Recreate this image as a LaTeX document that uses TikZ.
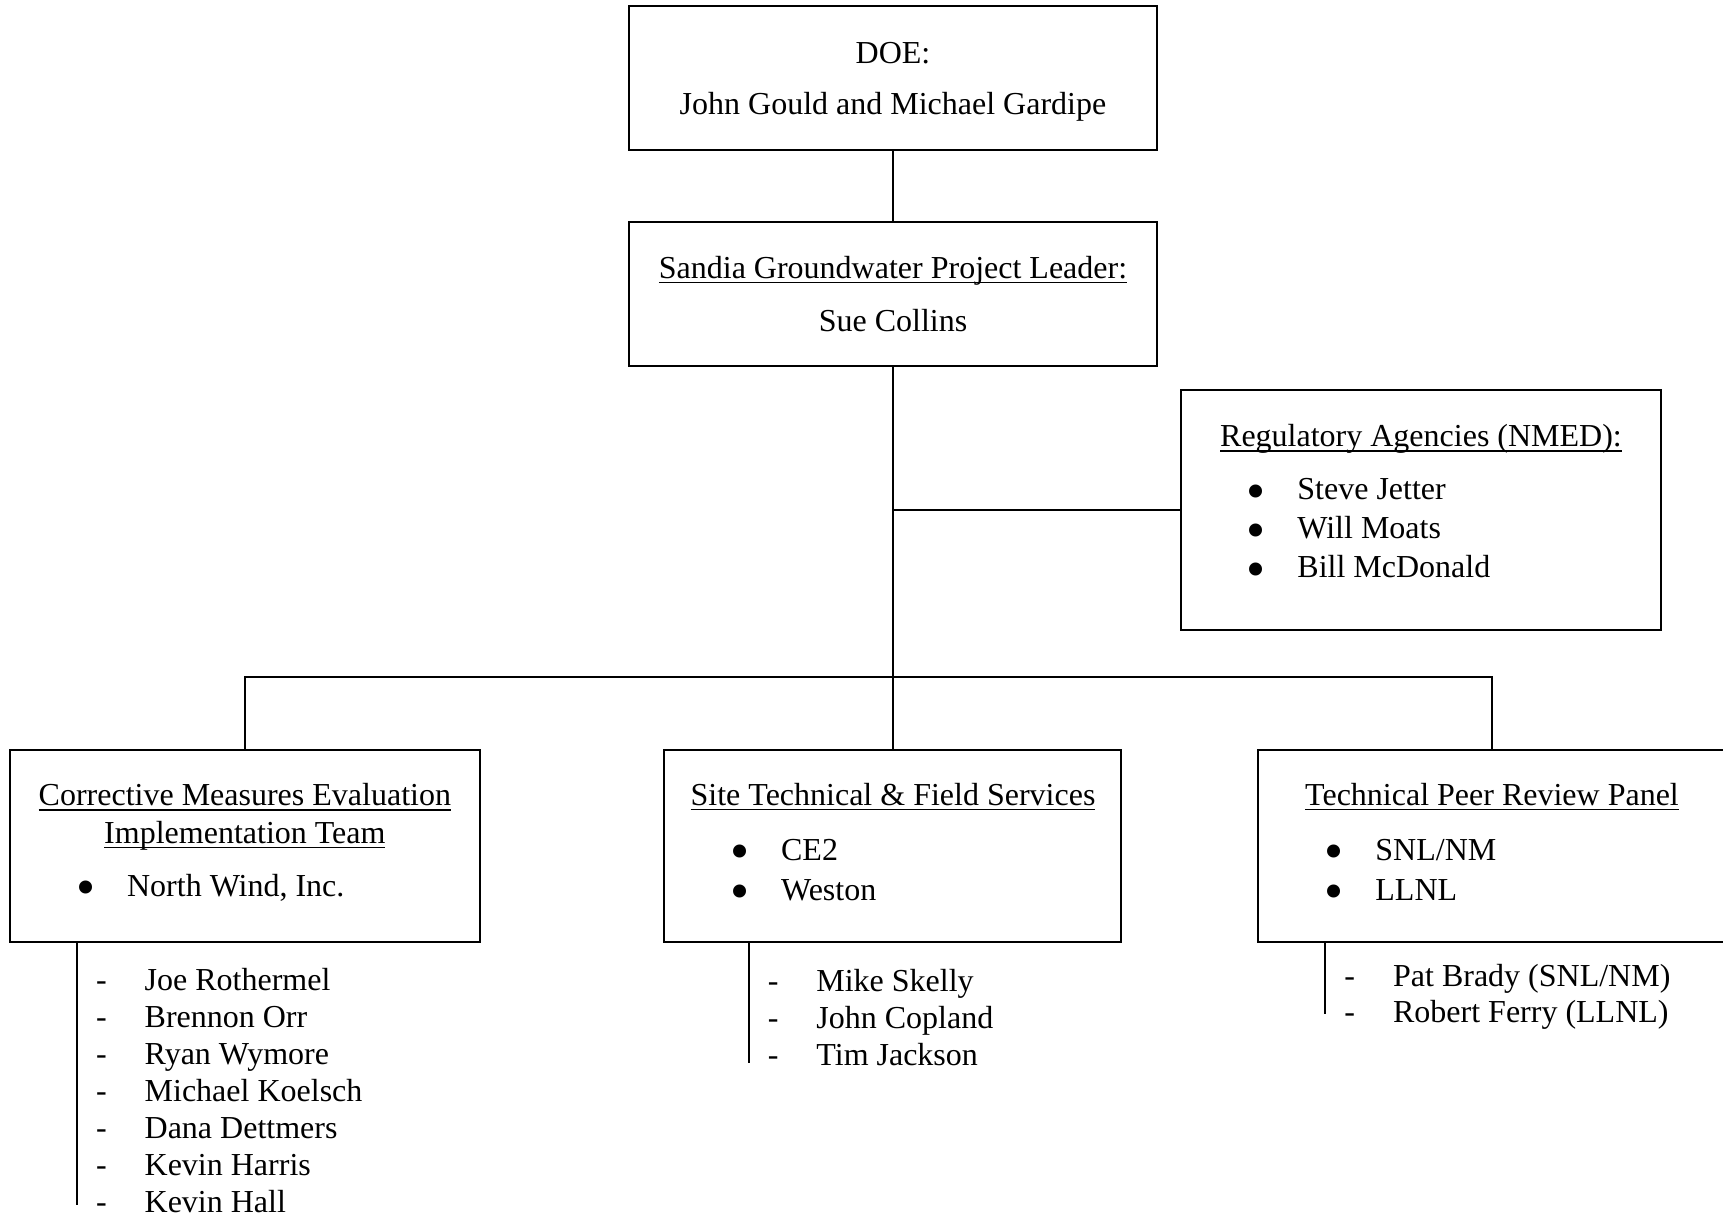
\documentclass[tikz,border=0pt]{standalone}
\usepackage{fontspec}
\usepackage{graphicx}
\setmainfont{Liberation Serif}
\usetikzlibrary{positioning}

\newcommand{\ulined}[1]{\setbox0\hbox{#1}\rlap{\rule[-2.55pt]{\wd0}{0.7pt}}\box0}
\newcommand{\bigdot}{\smash{\raisebox{-4.6pt}{\scalebox{1.7}{\textbullet}}}}
\newcommand{\bitem}[1]{\llap{\bigdot\hspace{15.7pt}}#1}
\newcommand{\ditem}[1]{\llap{-\hspace{19pt}}#1}

\tikzset{
  box/.style={draw, line width=1pt, inner sep=0pt},
  link/.style={line width=1pt},
  head/.style={anchor=base, inner sep=0pt, font=\fontsize{16pt}{19pt}\selectfont},
  entry/.style={anchor=base west, inner sep=0pt, font=\fontsize{16pt}{19pt}\selectfont}
}

\begin{document}
\begin{tikzpicture}[x=0.5pt, y=-0.5pt]
  \useasboundingbox (0,0) rectangle (1723,1218);

  % boxes
  \node[box, minimum width=264pt, minimum height=72pt] (doe) at (893,77.7) {};
  \node[box, minimum width=264pt, minimum height=71.7pt] (sandia) at (893,294) {};
  \node[box, minimum width=240pt, minimum height=120pt] (reg) at (1421,510) {};
  \node[box, minimum width=234.85pt, minimum height=95.85pt] (cme) at (244.85,845.85) {};
  \node[box, minimum width=228.35pt, minimum height=95.85pt] (stf) at (892.7,845.85) {};
  \node[box, minimum width=233.7pt, minimum height=95.85pt] (tpr) at (1492,845.85) {};

  % texts
  \node[head] (doehead) at (893,63.3) {DOE:};
  \node[head] (doenames) at (893,115) {John Gould and Michael Gardipe};
  \node[head] (sandiahead) at (893,278.3) {\ulined{Sandia Groundwater Project Leader:}};
  \node[head] (sandianame) at (893,331.7) {Sue Collins};
  \node[head] (reghead) at (1421,446.7) {\ulined{Regulatory Agencies (NMED):}};
  \foreach \who [count=\i] in {Steve Jetter, Will Moats, Bill McDonald}
    \node[entry] (reg\i) at (1297,{500+39*(\i-1)}) {\bitem{\who}};

  \node[head] (cmehead) at (244.85,805.7) {\ulined{Corrective Measures Evaluation}};
  \node[head] (cmehead2) at (244.85,843.3) {\ulined{Implementation Team}};
  \node[entry] (cme1) at (126.7,896.7) {\bitem{North Wind, Inc.}};
  \foreach \who [count=\i] in {Joe Rothermel, Brennon Orr, Ryan Wymore, Michael Koelsch, Dana Dettmers, Kevin Harris, Kevin Hall}
    \node[entry] (cmeteam\i) at (144.3,{990.7+37*(\i-1)}) {\ditem{\who}};

  \node[head] (stfhead) at (893,805) {\ulined{Site Technical \& Field Services}};
  \foreach \who [count=\i] in {CE2, Weston}
    \node[entry] (stf\i) at (780.7,{860+40*(\i-1)}) {\bitem{\who}};
  \foreach \who [count=\i] in {Mike Skelly, John Copland, Tim Jackson}
    \node[entry] (stfcrew\i) at (816,{991.7+36.7*(\i-1)}) {\ditem{\who}};

  \node[head] (tprhead) at (1492,805) {\ulined{Technical Peer Review Panel}};
  \foreach \who [count=\i] in {SNL/NM, LLNL}
    \node[entry] (tpr\i) at (1375,{860+40*(\i-1)}) {\bitem{\who}};
  \foreach \who [count=\i] in {Pat Brady (SNL/NM), Robert Ferry (LLNL)}
    \node[entry] (tprpanel\i) at (1392.7,{986+36.7*(\i-1)}) {\ditem{\who}};

  % connectors
  \coordinate (bus) at (893,677);
  \draw[link] (doe) -- (sandia);
  \draw[link] (sandia) -- (bus);
  \draw[link] (sandia.south |- reg.west) -- (reg.west);
  \draw[link] (cme.north) |- (bus) -| (tpr.north);
  \draw[link] (bus) -- (bus |- stf.north);

  \coordinate (cmeend) at (76.7,1205);
  \coordinate (stfend) at (748.7,1062.7);
  \coordinate (tprend) at (1325,1014);
  \draw[link] (cmeend |- cme.south) -- (cmeend);
  \draw[link] (stfend |- stf.south) -- (stfend);
  \draw[link] (tprend |- tpr.south) -- (tprend);
\end{tikzpicture}
\end{document}
